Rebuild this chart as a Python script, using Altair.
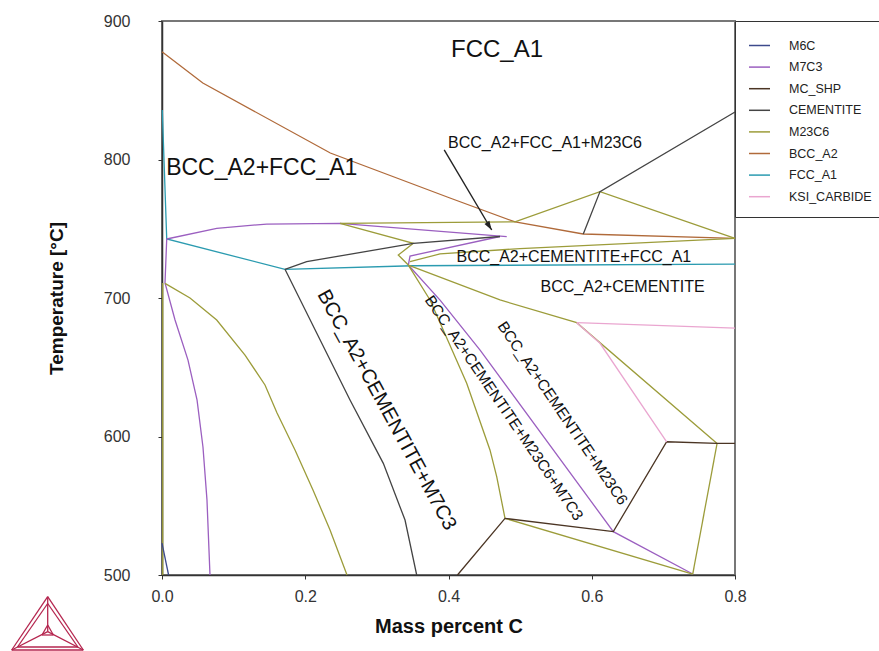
import altair as alt
import pandas as pd

# ---------------- data (mass percent C, temperature in °C) ----------------
PHASES = ["M6C", "M7C3", "MC_SHP", "CEMENTITE", "M23C6", "BCC_A2", "FCC_A1", "KSI_CARBIDE"]
COLORS = ["#3c4a8c", "#9b5fc0", "#4b3524", "#444444", "#9c9c3a", "#b06a3a", "#2b9bb0", "#eaa6d0"]

bcc_x = [0.0, 0.057, 0.235, 0.402, 0.493, 0.588, 0.8]
bcc_t = [877.8, 855.2, 804.7, 772.2, 754.9, 746.2, 743.0]

fcc_x = [0.0004, 0.0066, 0.1717, 0.35, 0.8]
fcc_t = [835.7, 742.6, 720.7, 723.3, 724.5]

m7_a_x = [0.0066, 0.0764, 0.1462, 0.2485, 0.4813]
m7_a_t = [742.6, 750.3, 753.4, 753.9, 744.3]
m7_b_x = [0.0066, 0.0042, 0.0182, 0.0363, 0.0489, 0.0572, 0.0628, 0.067]
m7_b_t = [742.6, 710.8, 684.1, 655.2, 626.4, 592.4, 554.1, 500.0]
m7_c_x = [0.3439, 0.3463, 0.4719]
m7_c_t = [723.8, 730.3, 744.4]
m7_d_x = [0.3439, 0.3882, 0.4441, 0.6301, 0.741]
m7_d_t = [723.8, 698.5, 662.4, 531.3, 500.7]

m23_a_x = [0.001, 0.001]
m23_a_t = [710.8, 500.0]
m23_b_x = [0.0042, 0.0391, 0.0764, 0.1159, 0.1438, 0.1606, 0.1857, 0.2108, 0.2346, 0.2583]
m23_b_t = [710.6, 700.0, 684.1, 658.8, 637.2, 617.0, 590.3, 561.4, 532.5, 500.0]
m23_c_x = [0.2485, 0.4928, 0.6115, 0.8]
m23_c_t = [753.9, 755.0, 776.8, 743.0]
m23_d_x = [0.2485, 0.3509, 0.3299, 0.3439]
m23_d_t = [753.9, 739.5, 731.0, 723.8]
m23_e_x = [0.3463, 0.3881, 0.4998, 0.8]
m23_e_t = [726.2, 731.8, 735.7, 743.0]
m23_f_x = [0.3439, 0.4719, 0.579, 0.775]
m23_f_t = [723.8, 698.6, 682.2, 595.0]
m23_g_x = [0.775, 0.741]
m23_g_t = [595.0, 500.7]
m23_h_x = [0.3439, 0.3742, 0.4254, 0.4579, 0.4673, 0.4789]
m23_h_t = [723.8, 698.6, 638.4, 590.3, 571.0, 540.9]
m23_i_x = [0.4789, 0.741]
m23_i_t = [540.9, 500.7]

cem_a_x = [0.1717, 0.2625, 0.309, 0.3393, 0.3556]
cem_a_t = [720.7, 626.4, 580.6, 539.7, 500.0]
cem_b_x = [0.1717, 0.202, 0.3509, 0.4719]
cem_b_t = [720.7, 726.2, 739.5, 744.4]
cem_c_x = [0.5882, 0.6115, 0.8]
cem_c_t = [746.2, 776.8, 834.3]

mc_x = [0.4125, 0.4789, 0.6301, 0.7046, 0.775, 0.8]
mc_t = [500.0, 540.9, 531.3, 596.2, 595.0, 595.0]

ksi_a_x = [0.579, 0.8]
ksi_a_t = [682.2, 678.3]
ksi_b_x = [0.579, 0.6115, 0.7046]
ksi_b_t = [682.2, 667.3, 596.2]

m6c_x = [0.0, 0.0092]
m6c_t = [523.0, 500.0]

SEGMENTS = [
    ("BCC_A2", bcc_x, bcc_t),
    ("FCC_A1", fcc_x, fcc_t),
    ("M7C3", m7_a_x, m7_a_t),
    ("M7C3", m7_b_x, m7_b_t),
    ("M7C3", m7_c_x, m7_c_t),
    ("M7C3", m7_d_x, m7_d_t),
    ("M23C6", m23_a_x, m23_a_t),
    ("M23C6", m23_b_x, m23_b_t),
    ("M23C6", m23_c_x, m23_c_t),
    ("M23C6", m23_d_x, m23_d_t),
    ("M23C6", m23_e_x, m23_e_t),
    ("M23C6", m23_f_x, m23_f_t),
    ("M23C6", m23_g_x, m23_g_t),
    ("M23C6", m23_h_x, m23_h_t),
    ("M23C6", m23_i_x, m23_i_t),
    ("CEMENTITE", cem_a_x, cem_a_t),
    ("CEMENTITE", cem_b_x, cem_b_t),
    ("CEMENTITE", cem_c_x, cem_c_t),
    ("MC_SHP", mc_x, mc_t),
    ("KSI_CARBIDE", ksi_a_x, ksi_a_t),
    ("KSI_CARBIDE", ksi_b_x, ksi_b_t),
    ("M6C", m6c_x, m6c_t),
]

# region labels
top_labels = ["FCC_A1"]
top_x = [0.4678]
top_t = [879.1]

big_labels = ["BCC_A2+FCC_A1"]
big_x = [0.1392]
big_t = [793.9]

mid_labels = ["BCC_A2+FCC_A1+M23C6", "BCC_A2+CEMENTITE+FCC_A1", "BCC_A2+CEMENTITE"]
mid_x = [0.5347, 0.575, 0.643]
mid_t = [811.9, 729.8, 707.7]

rot_big_labels = ["BCC_A2+CEMENTITE+M7C3"]
rot_big_x = [0.3137]
rot_big_t = [619.1]

rot_small_labels = ["BCC_A2+CEMENTITE+M23C6+M7C3", "BCC_A2+CEMENTITE+M23C6"]
rot_small_x = [0.4775, 0.5592]
rot_small_t = [620.6, 616.8]

arrow_x = [0.394, 0.4603]
arrow_t = [807.0, 749.1]

x_ticks = [0.0, 0.2, 0.4, 0.6, 0.8]
y_ticks = [500, 600, 700, 800, 900]

# ---------------- build tables ----------------
rows = []
for sid, (ph, xs, ts) in enumerate(SEGMENTS):
    for i, (xv, tv) in enumerate(zip(xs, ts)):
        rows.append({"seg": sid, "phase": ph, "x": xv, "t": tv, "i": i})
lines_df = pd.DataFrame(rows)

FONT = "Liberation Sans"
xscale = alt.Scale(domain=[0, 0.8], nice=False, zero=False)
yscale = alt.Scale(domain=[500, 900], nice=False, zero=False)

X = alt.X("x:Q", scale=xscale, title="Mass percent C",
          axis=alt.Axis(values=x_ticks, format=".1f", labelFontSize=16, titleFontSize=20,
                        titleFontWeight="bold", labelPadding=9, titlePadding=12, tickSize=4,
                        labelFlush=False))
Y = alt.Y("t:Q", scale=yscale, title="Temperature [°C]",
          axis=alt.Axis(values=y_ticks, format="d", labelFontSize=16, titleFontSize=19,
                        titleFontWeight="bold", labelPadding=28, titlePadding=37, tickSize=4,
                        labelFlush=False))

lines = alt.Chart(lines_df).mark_line(strokeWidth=1.3).encode(
    x=X, y=Y,
    color=alt.Color("phase:N", scale=alt.Scale(domain=PHASES, range=COLORS),
                    legend=alt.Legend(title=None, orient="none", legendX=573, legendY=0,
                                      symbolType="stroke", symbolSize=440, symbolStrokeWidth=1.5,
                                      labelFontSize=12.5, labelFont=FONT, labelOffset=18,
                                      labelColor="#222", padding=13, rowPadding=3.6,
                                      strokeColor="#333", fillColor="white", labelLimit=300)),
    detail="seg:N",
    order="i:Q",
)

def text_layer(labels, xs, ts, size, angle):
    df = pd.DataFrame({"label": labels, "x": xs, "t": ts})
    return alt.Chart(df).mark_text(font=FONT, fontSize=size, angle=angle, align="center",
                                   baseline="middle", color="#111").encode(
        x=alt.X("x:Q", scale=xscale), y=alt.Y("t:Q", scale=yscale), text="label:N")

t0 = text_layer(top_labels, top_x, top_t, 24, 0)
t1 = text_layer(big_labels, big_x, big_t, 23, 0)
t2 = text_layer(mid_labels, mid_x, mid_t, 16, 0)
t3 = text_layer(rot_big_labels, rot_big_x, rot_big_t, 20, 61.5)
t4 = text_layer(rot_small_labels, rot_small_x, rot_small_t, 15.5, 55.7)

arrow_df = pd.DataFrame({"x": arrow_x, "t": arrow_t, "i": [0, 1]})
arrow_line = alt.Chart(arrow_df).mark_line(color="#222", strokeWidth=1.4).encode(
    x=alt.X("x:Q", scale=xscale), y=alt.Y("t:Q", scale=yscale), order="i:Q")
arrow_head = alt.Chart(arrow_df).transform_filter("datum.i == 1").mark_point(
    shape="M0,0 L-0.32,1 L0.32,1 Z", angle=148, size=324, filled=True, color="#222", opacity=1
).encode(x=alt.X("x:Q", scale=xscale), y=alt.Y("t:Q", scale=yscale))

# Thermo-Calc style logo (decoration, in pixels relative to the plot origin)
LOGO = "#b5264f"
def seg(x1, y1, x2, y2):
    return alt.Chart(alt.Data(values=[{"k": 0}])).mark_rule(color=LOGO, strokeWidth=1.3).encode(
        x=alt.value(x1), y=alt.value(y1), x2=alt.value(x2), y2=alt.value(y2))

logo = [
    seg(-114.3, 575.7, -150.3, 629), seg(-114.3, 575.7, -78.7, 629), seg(-150.3, 629, -78.7, 629),
    seg(-114.3, 582.5, -144.5, 626), seg(-114.3, 582.5, -84.1, 626), seg(-144.5, 626, -84.1, 626),
    seg(-114.3, 575.7, -114.3, 610.7), seg(-114.3, 610.7, -150.3, 629), seg(-114.3, 610.7, -78.7, 629),
    seg(-120, 614, -108.6, 614), seg(-120, 614, -114.3, 604), seg(-108.6, 614, -114.3, 604),
]

chart = alt.layer(lines, arrow_line, arrow_head, t0, t1, t2, t3, t4, *logo).properties(
    width=573, height=554,
    autosize=alt.AutoSizeParams(type="none"),
    padding={"left": 162, "top": 21, "right": 144, "bottom": 76},
).configure_view(stroke="#777", strokeWidth=2).configure_axis(
    grid=False, domainColor="#333", domainWidth=1.5, tickColor="#333",
    labelFont=FONT, titleFont=FONT, labelColor="#333", titleColor="#111"
)

chart.save("out.html", embed_options={"renderer": "svg", "actions": False})
